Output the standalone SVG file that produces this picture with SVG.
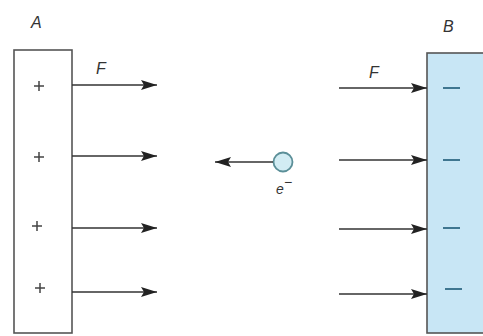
<svg xmlns="http://www.w3.org/2000/svg" width="483" height="336" viewBox="0 0 483 336">
<defs>
<style>
.lbl{font-family:"Liberation Sans",Arial,sans-serif;font-style:italic;font-size:16px;fill:#333}
.sm{font-family:"Liberation Sans",Arial,sans-serif;font-style:italic;font-size:14px;fill:#333}
.ar{stroke:#333;stroke-width:1.7;fill:none;marker-end:url(#ah)}
.plus{stroke:#444;stroke-width:1.5}
.minus{stroke:#3f7690;stroke-width:2}
</style>
<marker id="ah" viewBox="0 0 16 10" refX="16" refY="5" markerWidth="16" markerHeight="10" markerUnits="userSpaceOnUse" orient="auto">
<path d="M0,0 L16,5 L0,10 L3,5 Z" fill="#222"/>
</marker>
</defs>
<rect width="483" height="336" fill="#fff"/>
<g id="plateA">
<rect x="14" y="50" width="58" height="283" fill="#fff" stroke="#555" stroke-width="1.6"/>
<text class="lbl" x="31" y="28">A</text>
<path class="plus" d="M34,86h10M39,81v10 M34,157h10M39,152v10 M32,226h10M37,221v10 M35,288h10M40,283v10"/>
</g>
<g id="plateB">
<rect x="427" y="53" width="60" height="280" fill="#c8e6f5" stroke="#555" stroke-width="1.6"/>
<text class="lbl" x="443" y="32">B</text>
<path class="minus" d="M443,88h17 M443,160h17 M443,228h17 M445,289h17"/>
</g>
<g id="electron">
<circle cx="283" cy="162" r="9.5" fill="#d2ecf3" stroke="#5b8f98" stroke-width="1.8"/>
<text class="sm" x="276" y="194">e</text>
<text class="sm" x="284" y="187" font-size="11">−</text>
</g>
<g id="connectors">
<path class="ar" d="M72,85H157"/>
<path class="ar" d="M72,156H157"/>
<path class="ar" d="M72,228H157"/>
<path class="ar" d="M72,292H157"/>
<path class="ar" d="M339,88H427"/>
<path class="ar" d="M339,160H427"/>
<path class="ar" d="M339,229H427"/>
<path class="ar" d="M339,294H427"/>
<path class="ar" d="M273,162H215"/>
<text class="lbl" x="96" y="74">F</text>
<text class="lbl" x="369" y="78">F</text>
</g>
</svg>
